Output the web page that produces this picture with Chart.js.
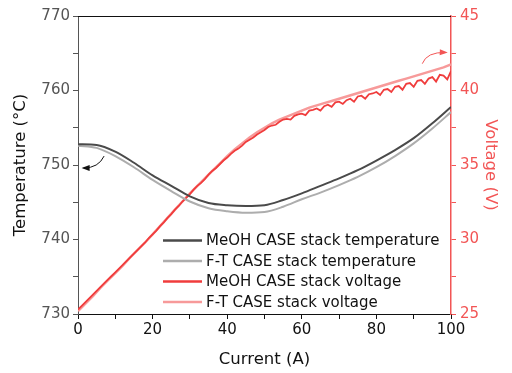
<!DOCTYPE html>
<html>
<head>
<meta charset="utf-8">
<script src="https://cdn.jsdelivr.net/npm/chart.js@4/dist/chart.umd.min.js"></script>
<style>
  html, body { margin: 0; padding: 0; background: #fff; }
  #wrap { width: 512px; height: 373px; }
</style>
</head>
<body>
<div id="wrap"><canvas id="chart" width="512" height="373"></canvas></div>
<script>
// current (A) for the temperature curves
const currentTemp = [0, 5, 10, 15, 20, 25, 30, 35, 40, 45, 50, 55, 60, 65, 70, 75, 80, 85, 90, 95, 100];
const meohTemp = [752.8, 752.7, 751.8, 750.3, 748.6, 747.2, 745.8, 744.9, 744.6, 744.5, 744.6, 745.3, 746.2, 747.2, 748.2, 749.3, 750.6, 752.0, 753.6, 755.6, 757.8];
const ftTemp = [752.6, 752.3, 751.2, 749.7, 748.0, 746.5, 745.1, 744.2, 743.8, 743.6, 743.7, 744.4, 745.4, 746.3, 747.3, 748.4, 749.7, 751.2, 752.9, 754.9, 757.1];

// MeOH voltage, read every 1 A (noisy)
const currentMeohVolt = [0, 1, 2, 3, 4, 5, 6, 7, 8, 9, 10, 11, 12, 13, 14, 15, 16, 17, 18, 19, 20,
  21, 22, 23, 24, 25, 26, 27, 28, 29, 30, 31, 32, 33, 34, 35, 36, 37, 38, 39, 40,
  41, 42, 43, 44, 45, 46, 47, 48, 49, 50, 51, 52, 53, 54, 55, 56, 57, 58, 59, 60,
  61, 62, 63, 64, 65, 66, 67, 68, 69, 70, 71, 72, 73, 74, 75, 76, 77, 78, 79, 80,
  81, 82, 83, 84, 85, 86, 87, 88, 89, 90, 91, 92, 93, 94, 95, 96, 97, 98, 99, 100];
const meohVolt = [25.3, 25.55, 25.8, 26.05, 26.3, 26.55, 26.8, 27.05, 27.3, 27.55, 27.8,
  28.05, 28.3, 28.55, 28.8, 29.05, 29.3, 29.55, 29.8, 30.1, 30.35,
  30.6, 30.9, 31.15, 31.45, 31.7, 32.0, 32.25, 32.55, 32.8, 33.05,
  33.35, 33.6, 33.8, 34.05, 34.35, 34.6, 34.8, 35.05, 35.3, 35.5,
  35.75, 35.95, 36.1, 36.3, 36.55, 36.7, 36.85, 37.05, 37.2, 37.35,
  37.55, 37.65, 37.7, 37.9, 38.05, 38.1, 38.05, 38.3, 38.4, 38.45,
  38.35, 38.65, 38.7, 38.8, 38.65, 38.95, 39.05, 38.9, 39.2, 39.25,
  39.1, 39.35, 39.45, 39.25, 39.6, 39.65, 39.45, 39.75, 39.8, 39.9,
  39.7, 40.05, 40.1, 39.9, 40.25, 40.3, 40.05, 40.45, 40.5, 40.25,
  40.65, 40.7, 40.45, 40.8, 40.9, 40.6, 41.05, 41.0, 40.75, 41.3];

// F-T voltage, read every 2 A
const currentFtVolt = [0, 2, 4, 6, 8, 10, 12, 14, 16, 18, 20, 22, 24, 26, 28, 30, 32, 34, 36, 38, 40, 42, 44, 46, 48, 50,
  52, 54, 56, 58, 60, 62, 64, 66, 68, 70, 72, 74, 76, 78, 80, 82, 84, 86, 88, 90, 92, 94, 96, 98, 100];
const ftVolt = [25.2, 25.7, 26.2, 26.75, 27.25, 27.75, 28.25, 28.8, 29.3, 29.8, 30.35, 30.9, 31.45, 32.0, 32.55, 33.1, 33.6, 34.1, 34.6, 35.1, 35.6, 36.05, 36.45, 36.85, 37.2, 37.5,
  37.8, 38.05, 38.25, 38.45, 38.65, 38.85, 39.0, 39.15, 39.3, 39.45, 39.6, 39.75, 39.9, 40.05, 40.2, 40.35, 40.5, 40.65, 40.8, 40.95, 41.1, 41.25, 41.4, 41.55, 41.75];

const labels = ['MeOH CASE stack temperature', 'F-T CASE stack temperature', 'MeOH CASE stack voltage', 'F-T CASE stack voltage'];
const colors = ['#4a4a4a', '#adadad', '#f03c3c', '#f79a9a'];
const voltColor = '#f25555';
const FONT = "'DejaVu Sans', Arial, sans-serif";

const pts = (xs, ys) => xs.map((x, i) => ({ x: x, y: ys[i] }));

// legend inside the plot + top frame + arrows
const extras = {
  id: 'extras',
  afterDraw(chart) {
    const ctx = chart.ctx;
    const a = chart.chartArea;
    const xs = chart.scales.x, yT = chart.scales.yT, yV = chart.scales.yV;
    ctx.save();
    // top frame line
    ctx.strokeStyle = '#111';
    ctx.lineWidth = 1;
    ctx.beginPath();
    ctx.moveTo(a.left, a.top + 0.5);
    ctx.lineTo(a.right, a.top + 0.5);
    ctx.stroke();

    // legend
    ctx.font = '15px ' + FONT;
    ctx.textBaseline = 'middle';
    ctx.fillStyle = '#111';
    labels.forEach((t, i) => {
      const y = a.top + 224.5 + i * 20.5;
      ctx.strokeStyle = colors[i];
      ctx.lineWidth = 2.5;
      ctx.beginPath();
      ctx.moveTo(a.left + 85, y);
      ctx.lineTo(a.left + 124, y);
      ctx.stroke();
      ctx.fillText(t, a.left + 128, y + 1);
    });

    // curved arrow helper
    function arrow(x0, y0, cx, cy, x1, y1, col) {
      ctx.strokeStyle = col;
      ctx.fillStyle = col;
      ctx.lineWidth = 1;
      ctx.beginPath();
      ctx.moveTo(x0, y0);
      ctx.quadraticCurveTo(cx, cy, x1, y1);
      ctx.stroke();
      const ang = Math.atan2(y1 - cy, x1 - cx);
      ctx.beginPath();
      ctx.moveTo(x1 + 2 * Math.cos(ang), y1 + 2 * Math.sin(ang));
      ctx.lineTo(x1 - 6 * Math.cos(ang) + 3 * Math.sin(ang), y1 - 6 * Math.sin(ang) - 3 * Math.cos(ang));
      ctx.lineTo(x1 - 6 * Math.cos(ang) - 3 * Math.sin(ang), y1 - 6 * Math.sin(ang) + 3 * Math.cos(ang));
      ctx.closePath();
      ctx.fill();
    }
    arrow(xs.getPixelForValue(7), yT.getPixelForValue(751.2),
      xs.getPixelForValue(5.5), yT.getPixelForValue(749.6),
      xs.getPixelForValue(1.5), yT.getPixelForValue(749.6), '#111');
    arrow(xs.getPixelForValue(92.3), yV.getPixelForValue(41.8),
      xs.getPixelForValue(93.5), yV.getPixelForValue(42.6),
      xs.getPixelForValue(98.6), yV.getPixelForValue(42.55), voltColor);
    ctx.restore();
  }
};

const ctx = document.getElementById('chart').getContext('2d');
new Chart(ctx, {
  type: 'line',
  data: {
    datasets: [
      { label: labels[0], data: pts(currentTemp, meohTemp), yAxisID: 'yT', borderColor: colors[0], borderWidth: 2, cubicInterpolationMode: 'monotone' },
      { label: labels[1], data: pts(currentTemp, ftTemp), yAxisID: 'yT', borderColor: colors[1], borderWidth: 2, cubicInterpolationMode: 'monotone' },
      { label: labels[2], data: pts(currentMeohVolt, meohVolt), yAxisID: 'yV', borderColor: colors[2], borderWidth: 1.8 },
      { label: labels[3], data: pts(currentFtVolt, ftVolt), yAxisID: 'yV', borderColor: colors[3], borderWidth: 2.5 }
    ]
  },
  options: {
    responsive: false,
    animation: false,
    elements: { point: { radius: 0 } },
    layout: { padding: { top: 16, left: 0, right: 0, bottom: 0 } },
    plugins: { legend: { display: false }, tooltip: { enabled: false } },
    scales: {
      x: {
        type: 'linear',
        min: 0, max: 100,
        border: { color: '#111', width: 1 },
        grid: { drawOnChartArea: false, tickLength: 5, color: '#111' },
        ticks: {
          stepSize: 10, autoSkip: false, maxRotation: 0, padding: 2,
          color: '#111', font: { family: FONT, size: 15 },
          callback: v => (v % 20 === 0 ? String(v) : '')
        },
        title: { display: true, text: 'Current (A)', color: '#111', font: { family: FONT, size: 16.5 }, padding: { top: 2, bottom: 3 } },
        afterFit: s => { s.height = 59; }
      },
      yT: {
        position: 'left',
        min: 730, max: 770,
        border: { color: '#555', width: 1 },
        grid: { drawOnChartArea: false, tickLength: 5, color: '#555' },
        ticks: {
          stepSize: 5, autoSkip: false, padding: 3,
          color: '#555', font: { family: FONT, size: 15 },
          callback: v => (v % 10 === 0 ? String(v) : '')
        },
        title: { display: true, text: 'Temperature (°C)', color: '#111', font: { family: FONT, size: 16.5 }, padding: { top: 11, bottom: 0 } },
        afterFit: s => { s.width = 78; }
      },
      yV: {
        position: 'right',
        min: 25, max: 45,
        border: { color: voltColor, width: 1.5 },
        grid: { drawOnChartArea: false, tickLength: 5, color: voltColor },
        ticks: {
          stepSize: 2.5, autoSkip: false, padding: 4,
          color: voltColor, font: { family: FONT, size: 15 },
          callback: v => (v % 5 === 0 ? String(v) : '')
        },
        title: { display: true, text: 'Voltage (V)', color: voltColor, font: { family: FONT, size: 16.5 }, padding: { top: 12, bottom: 0 } },
        afterFit: s => { s.width = 61; }
      }
    }
  },
  plugins: [extras]
});
</script>
</body>
</html>
